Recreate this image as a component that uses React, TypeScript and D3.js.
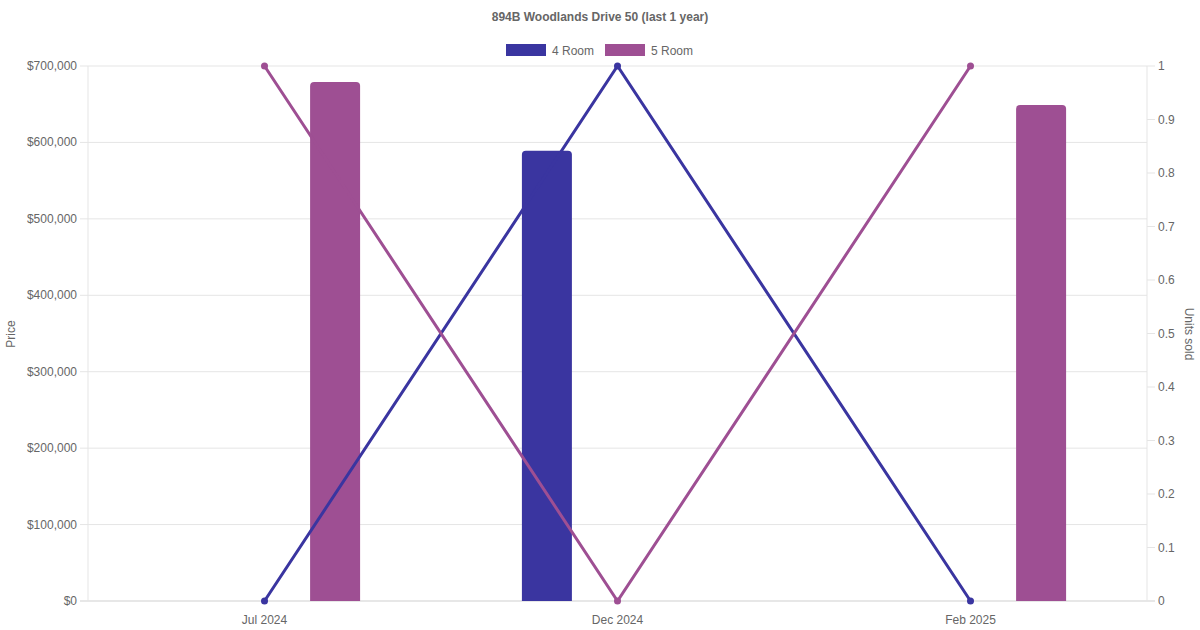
import React from "react";
import * as d3 from "d3";

const categories = ["Jul 2024", "Dec 2024", "Feb 2025"];
const seriesNames = ["4 Room", "5 Room"];
const colors = ["#3a35a0", "#9e4f93"];
const price4Room: (number | null)[] = [null, 589000, null];
const price5Room: (number | null)[] = [679000, null, 649000];
const units4Room = [0, 1, 0];
const units5Room = [1, 0, 1];
const priceTicks = [0, 100000, 200000, 300000, 400000, 500000, 600000, 700000];
const unitTicks = [0, 0.1, 0.2, 0.3, 0.4, 0.5, 0.6, 0.7, 0.8, 0.9, 1];

const W = 1200, H = 630;
const L = 88, R = 1147, T = 66, B = 601;
const FONT = "Liberation Sans, Arial, Helvetica, sans-serif";

export default function App() {
  const x = d3.scaleBand<string>().domain(categories).range([L, R]).paddingInner(0).paddingOuter(0);
  const y = d3.scaleLinear().domain([0, 700000]).range([B, T]);
  const y2 = d3.scaleLinear().domain([0, 1]).range([B, T]);
  const bw = x.bandwidth();
  const slot = (bw * 0.8) / 2;
  const barW = 50;
  const fmt = (v: number) => "$" + d3.format(",")(v);
  const prices = [price4Room, price5Room];
  const units = [units4Room, units5Room];
  const cx = (c: string) => (x(c) as number) + bw / 2;
  const line = d3.line<number>().x((_, i) => cx(categories[i])).y((d) => y2(d));

  const barPath = (x0: number, y0: number, w: number, h: number, r: number) => {
    const rr = Math.min(r, h);
    return `M${x0},${y0 + h}V${y0 + rr}Q${x0},${y0} ${x0 + rr},${y0}H${x0 + w - rr}Q${x0 + w},${y0} ${x0 + w},${y0 + rr}V${y0 + h}Z`;
  };

  return (
    <svg width={W} height={H} style={{ display: "block", position: "absolute", left: 0, top: 0 }} fontFamily={FONT}>
      <rect width={W} height={H} fill="#fff" />
      <text x={600} y={21} textAnchor="middle" fontSize={12} fontWeight="bold" fill="#666">
        894B Woodlands Drive 50 (last 1 year)
      </text>
      {/* legend */}
      {seriesNames.map((n, i) => {
        const lx = i === 0 ? 506 : 605;
        return (
          <g key={n}>
            <rect x={lx} y={44} width={40} height={12} fill={colors[i]} />
            <text x={lx + 46} y={54.5} fontSize={12} fill="#666">{n}</text>
          </g>
        );
      })}
      {/* grid */}
      {priceTicks.map((t) => (
        <g key={t}>
          <line x1={L - 8} x2={t === 0 ? R + 8 : R} y1={y(t)} y2={y(t)} stroke={t === 0 ? "#cfcfcf" : "#e5e5e5"} strokeWidth={1} />
          <text x={L - 11} y={y(t) + 4} textAnchor="end" fontSize={12} fill="#666">{fmt(t)}</text>
        </g>
      ))}
      <line x1={L} x2={L} y1={T} y2={B} stroke="#e5e5e5" />
      <line x1={R} x2={R} y1={T} y2={B} stroke="#e5e5e5" />
      {unitTicks.map((t) => (
        <g key={t}>
          {t !== 0 && <line x1={R} x2={R + 8} y1={y2(t)} y2={y2(t)} stroke="#e5e5e5" />}
          <text x={R + 11} y={y2(t) + 4} textAnchor="start" fontSize={12} fill="#666">{d3.format("~g")(t)}</text>
        </g>
      ))}
      {categories.map((c) => (
        <text key={c} x={cx(c)} y={624} textAnchor="middle" fontSize={12} fill="#666">{c}</text>
      ))}
      <text transform={`translate(15,334) rotate(-90)`} textAnchor="middle" fontSize={12} fill="#666">Price</text>
      <text transform={`translate(1185,334) rotate(90)`} textAnchor="middle" fontSize={12} fill="#666">Units sold</text>
      {/* bars */}
      {prices.map((p, si) =>
        p.map((v, i) => {
          if (v == null) return null;
          const center = cx(categories[i]) + (si === 0 ? -slot / 2 : slot / 2);
          const top = y(v);
          return <path key={`${si}-${i}`} d={barPath(center - barW / 2, top, barW, B - top, 4)} fill={colors[si]} />;
        })
      )}
      {/* lines */}
      {units.map((u, si) => (
        <g key={si}>
          <path d={line(u) || ""} fill="none" stroke={colors[si]} strokeWidth={3} />
          {u.map((v, i) => (
            <circle key={i} cx={cx(categories[i])} cy={y2(v)} r={3.5} fill={colors[si]} />
          ))}
        </g>
      ))}
    </svg>
  );
}
